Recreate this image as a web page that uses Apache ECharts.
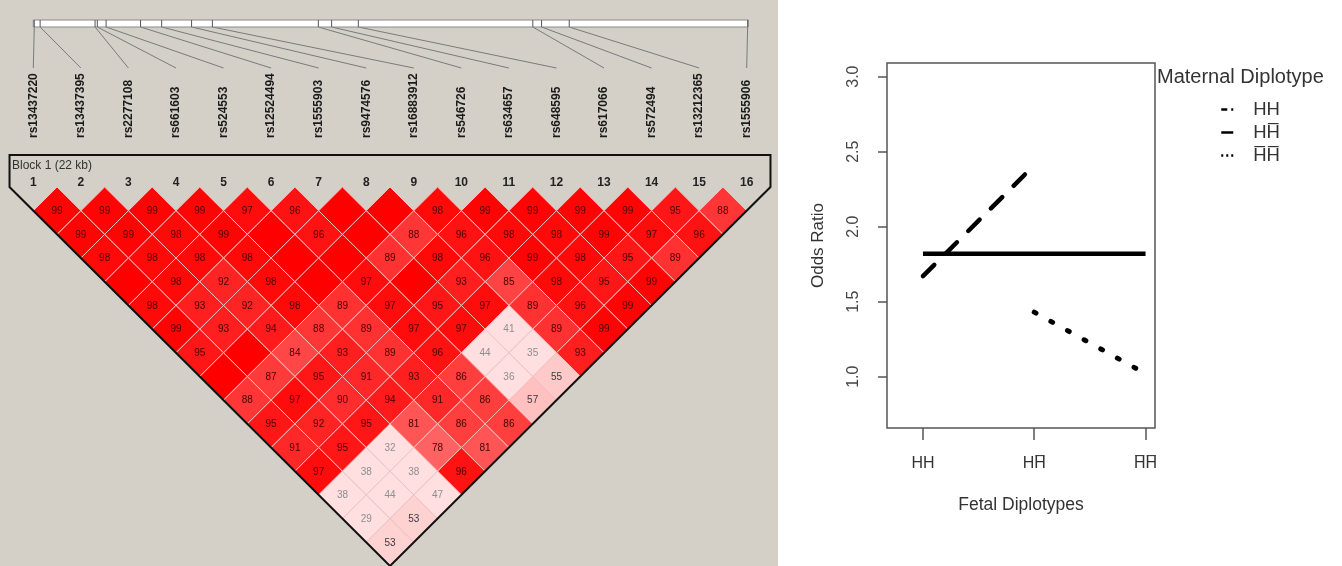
<!DOCTYPE html>
<html>
<head>
<meta charset="utf-8">
<script src="https://cdn.jsdelivr.net/npm/echarts@6/dist/echarts.min.js"></script>
<style>
html,body{margin:0;padding:0;background:#fff;}
#c{width:1342px;height:566px;}
</style>
</head>
<body>
<div id="c"></div>
<script>
// ---------- Data: LD plot (Haploview) ----------
const snpNames = ['rs13437220','rs13437395','rs2277108','rs661603','rs524553','rs12524494','rs1555903','rs9474576',
  'rs16883912','rs546726','rs634657','rs648595','rs617066','rs572494','rs13212365','rs1555906'];
// physical position of each SNP inside the block (kb from first SNP)
const snpPosKb = [0.03,0.21,1.90,1.97,2.24,3.30,3.95,4.87,5.51,8.77,9.18,10.00,15.37,15.64,16.49,21.98];
const blockLengthKb = 22;
const blockTitle = 'Block 1 (22 kb)';
// D' x100 by SNP distance (row 1 = adjacent pairs); 100 = D' of 1 (no number shown)
const ldDist1  = [99,99,99,99,97,96,100,100,98,99,99,99,99,95,88];
const ldDist2  = [99,99,98,99,100,96,100,88,96,98,98,99,97,96];
const ldDist3  = [98,98,98,98,100,100,89,98,96,99,98,95,89];
const ldDist4  = [100,98,92,98,100,97,100,93,85,98,95,99];
const ldDist5  = [98,93,92,98,89,97,95,97,89,96,99];
const ldDist6  = [99,93,94,88,89,97,97,41,89,99];
const ldDist7  = [95,100,84,93,89,96,44,35,93];
const ldDist8  = [100,87,95,91,93,86,36,55];
const ldDist9  = [88,97,90,94,91,86,57];
const ldDist10 = [95,92,95,81,86,86];
const ldDist11 = [91,95,32,78,81];
const ldDist12 = [97,38,38,96];
const ldDist13 = [38,44,47];
const ldDist14 = [29,53];
const ldDist15 = [53];
const ldByDistance = [ldDist1,ldDist2,ldDist3,ldDist4,ldDist5,ldDist6,ldDist7,ldDist8,ldDist9,ldDist10,ldDist11,ldDist12,ldDist13,ldDist14,ldDist15];

// ---------- Data: interaction plot ----------
const fetalDiplotypes = ['HH', 'HH\u0305', 'H\u0305H\u0305'];
const maternalDiplotypes = ['HH', 'HH\u0305', 'H\u0305H\u0305'];
const orMaternalHH   = [1.67, 2.41, null];
const orMaternalHHb  = [1.82, 1.82, 1.82];
const orMaternalHbHb = [null, 1.43, 1.02];
const orTicks = [1.0, 1.5, 2.0, 2.5, 3.0];
const fetalTicks = [1, 2, 3];

// ---------- helpers ----------
const ldData = [];
ldByDistance.forEach((row, r) => row.forEach((v, i) => ldData.push([i + 1, i + 2 + r, v])));

function ldColor(v) {
  if (v >= 100) return 'rgb(255,0,0)';
  const g = Math.min(223, Math.round(223 * 2 * (1 - v / 100)));
  return 'rgb(255,' + g + ',' + g + ')';
}
function ldTextColor(v) {
  if (v < 50) return '#8e8e8e';
  if (v < 70) return '#3a3a3a';
  return '#4a0000';
}
function toXY(arr) {
  return arr.map((v, i) => (v == null ? null : [i + 1, v])).filter(Boolean);
}

const FONT = '"Liberation Sans", Arial, sans-serif';
const chart = echarts.init(document.getElementById('c'), null, {renderer: 'canvas'});

const bgRect = {type: 'rect', id: 'bg', shape: {x: 0, y: 0, width: 778, height: 566}, style: {fill: '#d4d0c8'}, z: -100, silent: true};
const clear = 'rgba(0,0,0,0)';
const legendLineTypes = [[6, 4], 'solid', [2, 3]];

const option = {
  animation: false,
  backgroundColor: '#ffffff',
  textStyle: {fontFamily: FONT},
  graphic: [bgRect],
  title: [
    {text: blockTitle, left: 12, top: 160, padding: 0,
     textStyle: {fontSize: 12, fontWeight: 'normal', color: '#333', fontFamily: FONT}},
    {text: 'Maternal Diplotype', left: 1157, top: 67, padding: 0,
     textStyle: {fontSize: 20, fontWeight: 'normal', color: '#333', fontFamily: FONT}}
  ],
  legend: {
    orient: 'vertical', left: 1220, top: 100, padding: 0,
    itemWidth: 12, itemHeight: 10, itemGap: 4, selectedMode: false,
    itemStyle: {color: clear, borderWidth: 0},
    textStyle: {fontSize: 18.5, color: '#333', fontFamily: FONT, padding: [0, 0, 0, 15]},
    data: maternalDiplotypes.map((name, k) => ({
      name: name,
      lineStyle: {type: legendLineTypes[k], width: 2.5, cap: 'butt', color: '#000'}
    }))
  },
  grid: [
    {left: 33.3, top: 187, width: 713.4, height: 380},   // LD triangle
    {left: 33.3, top: 20, width: 715, height: 7},        // physical map bar
    {left: 887, top: 63, width: 268, height: 365, show: true, borderColor: '#555', borderWidth: 1.5, backgroundColor: 'transparent'},
    {left: 33.3, top: 68, width: 713.4, height: 71}      // SNP names
  ],
  xAxis: [
    {gridIndex: 0, type: 'value', min: 1, max: 16, interval: 1, position: 'top',
     axisLine: {show: false}, axisTick: {show: false}, splitLine: {show: false},
     axisLabel: {fontSize: 12, fontWeight: 'bold', color: '#222', margin: -2, fontFamily: FONT}},
    {gridIndex: 1, type: 'value', min: 0, max: blockLengthKb, show: false},
    {gridIndex: 2, type: 'value', min: 0.677, max: 3.085,
     axisLine: {show: false}, splitLine: {show: false},
     axisTick: {customValues: fetalTicks, length: 12, lineStyle: {color: '#555', width: 1.5}},
     axisLabel: {customValues: fetalTicks, formatter: v => fetalDiplotypes[Math.round(v) - 1],
                 margin: 28, fontSize: 16, color: '#333', fontFamily: FONT},
     name: 'Fetal Diplotypes', nameLocation: 'middle', nameGap: 68,
     nameTextStyle: {fontSize: 17.5, color: '#333', fontFamily: FONT}},
    {gridIndex: 3, type: 'value', min: 1, max: 16, interval: 1, position: 'bottom',
     axisLine: {show: false}, axisTick: {show: false}, splitLine: {show: false},
     axisLabel: {inside: true, rotate: 90, margin: 1, fontSize: 12, fontWeight: 'bold', color: '#1a1a1a', fontFamily: FONT,
                 formatter: v => snpNames[Math.round(v) - 1]}}
  ],
  yAxis: [
    {gridIndex: 0, type: 'value', min: 0, max: 16, inverse: true, show: false},
    {gridIndex: 1, type: 'value', min: 0, max: 1, inverse: true, show: false},
    {gridIndex: 2, type: 'value', min: 0.658, max: 3.091,
     axisLine: {show: false}, splitLine: {show: false},
     axisTick: {customValues: orTicks, length: 9, lineStyle: {color: '#555', width: 1.5}},
     axisLabel: {customValues: orTicks, rotate: 90, formatter: v => v.toFixed(1),
                 margin: 25, fontSize: 16, color: '#444', fontFamily: FONT},
     name: 'Odds Ratio', nameLocation: 'middle', nameRotate: 90, nameGap: 60,
     nameTextStyle: {fontSize: 17, color: '#333', fontFamily: FONT}},
    {gridIndex: 3, type: 'value', min: 0, max: 1, inverse: true, show: false}
  ],
  series: [
    {
      type: 'custom', name: 'ld', xAxisIndex: 0, yAxisIndex: 0, data: ldData, silent: true, z: 2,
      renderItem: function (params, api) {
        const i = api.value(0), j = api.value(1), v = api.value(2);
        const cx = (i + j) / 2, cy = j - i;
        const pts = [[cx - 0.5, cy], [cx, cy - 1], [cx + 0.5, cy], [cx, cy + 1]].map(p => api.coord(p));
        const c = api.coord([cx, cy]);
        const children = [{type: 'polygon', shape: {points: pts},
          style: {fill: ldColor(v), stroke: '#f0c2c2', lineWidth: 1}}];
        if (v < 100) {
          children.push({type: 'text', z2: 10, style: {text: String(v), x: c[0], y: c[1] + 0.5,
            textAlign: 'center', textVerticalAlign: 'middle', align: 'center', verticalAlign: 'middle',
            fill: ldTextColor(v), font: '10px ' + FONT}});
        }
        return {type: 'group', children: children};
      }
    },
    {
      type: 'custom', name: 'outline', xAxisIndex: 0, yAxisIndex: 0, data: [[snpNames.length]], silent: true, z: 5,
      renderItem: function (params, api) {
        const n = api.value(0), top = -1.35;
        const pts = [[0.5, top], [n + 0.5, top], [n + 0.5, 0], [(n + 1) / 2, n], [0.5, 0]].map(q => api.coord(q));
        return {type: 'polygon', shape: {points: pts}, style: {fill: null, stroke: '#111', lineWidth: 2}};
      }
    },
    {
      type: 'custom', name: 'mapbar', xAxisIndex: 1, yAxisIndex: 1, data: [[0, blockLengthKb]], silent: true, z: 2,
      renderItem: function (params, api) {
        const a = api.coord([api.value(0), 0]);
        const b = api.coord([api.value(1), 1]);
        return {type: 'rect', shape: {x: a[0], y: a[1], width: b[0] - a[0], height: b[1] - a[1]},
          style: {fill: '#ffffff', stroke: '#8a8a8a', lineWidth: 1}};
      }
    },
    {
      type: 'custom', name: 'mapticks', xAxisIndex: 1, yAxisIndex: 1, data: snpPosKb.map(k => [k]), silent: true, z: 3,
      renderItem: function (params, api) {
        const a = api.coord([api.value(0), 0]);
        const b = api.coord([api.value(0), 1]);
        return {type: 'line', shape: {x1: a[0], y1: a[1], x2: b[0], y2: b[1]}, style: {stroke: '#555', lineWidth: 1}};
      }
    },
    {type: 'line', name: maternalDiplotypes[0], xAxisIndex: 2, yAxisIndex: 2, data: toXY(orMaternalHH),
     symbol: 'none', lineStyle: {color: '#000', width: 4.5, type: [16, 16], cap: 'round'}, itemStyle: {color: clear}},
    {type: 'line', name: maternalDiplotypes[1], xAxisIndex: 2, yAxisIndex: 2, data: toXY(orMaternalHHb),
     symbol: 'none', lineStyle: {color: '#000', width: 4.5, type: 'solid'}, itemStyle: {color: clear}},
    {type: 'line', name: maternalDiplotypes[2], xAxisIndex: 2, yAxisIndex: 2, data: toXY(orMaternalHbHb),
     symbol: 'none', lineStyle: {color: '#000', width: 5, type: [2, 17], cap: 'round'}, itemStyle: {color: clear}}
  ]
};

chart.setOption(option);

// connectors from physical position on the map bar to each SNP name column
const connectors = snpPosKb.map((kb, idx) => {
  const p1 = chart.convertToPixel({gridIndex: 1}, [kb, 1]);
  const p2 = chart.convertToPixel({gridIndex: 3}, [idx + 1, 0]);
  return {type: 'line', id: 'conn' + idx, shape: {x1: p1[0], y1: p1[1], x2: p2[0], y2: p2[1]},
          style: {stroke: '#7a7a7a', lineWidth: 1}, silent: true, z: 1};
});
chart.setOption({graphic: [bgRect].concat(connectors)});
</script>
</body>
</html>
